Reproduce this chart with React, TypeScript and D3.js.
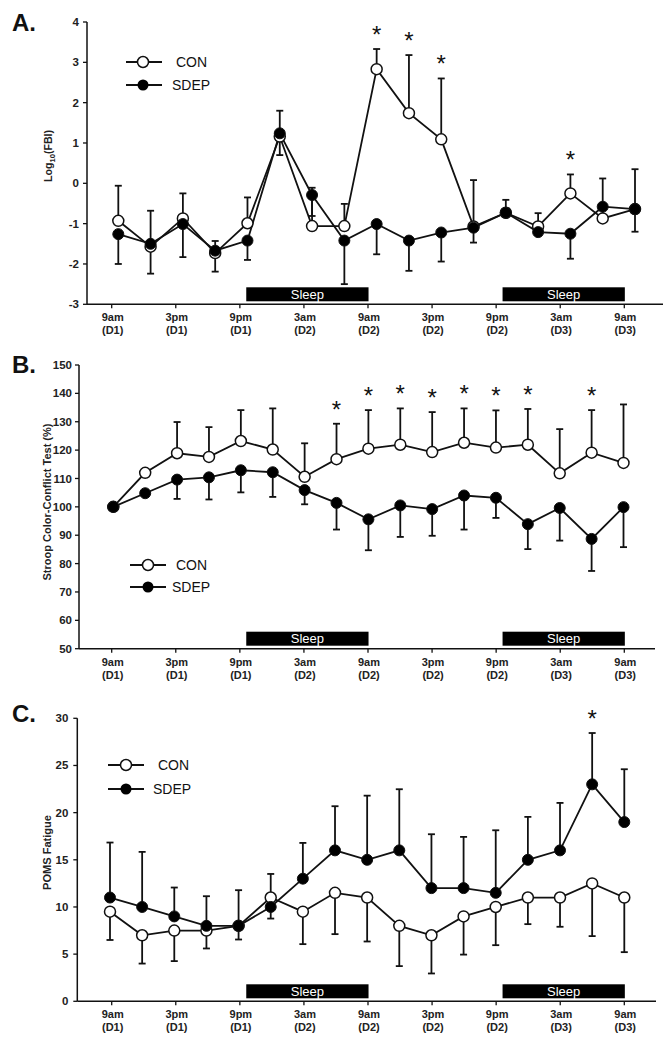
import React from "react";
import * as d3 from "d3";

const FONT = "'Liberation Sans', Arial, Helvetica, sans-serif";

// sampling times (hours from 9am D1)
const timePoints = [0, 3, 6, 9, 12, 15, 18, 21, 24, 27, 30, 33, 36, 39, 42, 45, 48];
const tickHours = [0, 6, 12, 18, 24, 30, 36, 42, 48];
const tickLabels = ["9am", "3pm", "9pm", "3am", "9am", "3pm", "9pm", "3am", "9am"];
const tickDays = ["(D1)", "(D1)", "(D1)", "(D2)", "(D2)", "(D2)", "(D2)", "(D3)", "(D3)"];
const sleepStart = [12.6, 36.6];
const sleepEnd = [24.05, 48.05];

// Panel A: Log10(FBI)
const conA = [-0.93, -1.57, -0.87, -1.73, -0.99, 1.16, -1.06, -1.06, 2.83, 1.74, 1.09, -1.07, -0.73, -1.07, -0.25, -0.87, -0.64];
const conErrA = [0.87, 0.89, 0.62, 0.3, 0.64, 0.64, 0.95, 0.55, 0.5, 1.44, 1.51, 1.15, 0.32, 0.33, 0.47, 0.99, 0.99];
const sdepA = [-1.26, -1.5, -1.01, -1.67, -1.42, 1.24, -0.29, -1.42, -1.01, -1.42, -1.22, -1.1, -0.73, -1.21, -1.25, -0.58, -0.64];
const sdepErrA = [-0.74, -0.74, -0.82, -0.52, -0.48, -0.54, -0.52, -1.08, -0.75, -0.75, -0.72, -0.37, 0, 0, -0.62, 0, -0.56];
const starsA = [8, 9, 10, 14];
const yTicksA = [-3, -2, -1, 0, 1, 2, 3, 4];

// Panel B: Stroop Color-Conflict Test (%)
const conB = [100, 112.0, 118.9, 117.6, 123.2, 120.2, 110.6, 116.8, 120.5, 121.9, 119.3, 122.6, 120.9, 121.9, 111.8, 119.1, 115.5];
const conErrB = [0, 0, 11.0, 10.5, 10.9, 14.5, 11.8, 12.5, 13.6, 12.8, 14.1, 12.1, 13.1, 12.6, 15.6, 15.0, 20.6];
const sdepB = [100, 104.8, 109.6, 110.4, 112.9, 112.2, 105.9, 101.4, 95.6, 100.5, 99.2, 104.0, 103.2, 93.9, 99.6, 88.7, 99.9];
const sdepErrB = [0, 0, -6.8, -7.8, -7.8, -8.7, -5.0, -9.4, -10.9, -11.1, -9.4, -12.0, -7.1, -8.8, -11.5, -11.3, -14.1];
const starsB = [7, 8, 9, 10, 11, 12, 13, 15];
const yTicksB = [50, 60, 70, 80, 90, 100, 110, 120, 130, 140, 150];

// Panel C: POMS Fatigue
const conC = [9.5, 7.0, 7.5, 7.5, 8.0, 11.0, 9.5, 11.5, 11.0, 8.0, 7.0, 9.0, 10.0, 11.0, 11.0, 12.5, 11.0];
const conErrC = [-3.0, -3.0, -3.24, -1.9, -1.45, 2.5, -3.44, -4.38, -4.66, -4.27, -4.05, -4.05, -4.05, -2.82, -3.1, -5.59, -5.79];
const sdepC = [11, 10, 9, 8, 8, 10, 13, 16, 15, 16, 12, 12, 11.5, 15, 16, 23, 19];
const sdepErrC = [5.83, 5.84, 3.06, 3.14, 3.78, -1.23, 3.79, 4.68, 6.8, 6.48, 5.71, 5.43, 6.63, 4.55, 5.03, 5.44, 5.6];
const starsC = [15];
const yTicksC = [0, 5, 10, 15, 20, 25, 30];

type Cfg = {
  letter: string;
  letterY: number;
  axisX: number;
  axisEnd: number;
  yTop: number;
  yBottom: number;
  domain: [number, number];
  yTicks: number[];
  pointRange: [number, number];
  labelGap: number;
  yLabelX: number;
  yLabelY: number;
  yLabelLen: number;
  legend: { x1: number; x2: number; xm: number; yCon: number; ySdep: number; xCon: number; xSdep: number };
};

function Panel(props: {
  cfg: Cfg;
  con: number[];
  conErr: number[];
  sdep: number[];
  sdepErr: number[];
  stars: number[];
  yLabel: React.ReactNode;
}) {
  const { cfg, con, conErr, sdep, sdepErr, stars, yLabel } = props;
  const y = d3.scaleLinear().domain(cfg.domain).range([cfg.yBottom, cfg.yTop]);
  const xt = d3.scaleLinear().domain([0, 48]).range([111.7, 624.3]);
  const xp = d3.scaleLinear().domain([0, 48]).range(cfg.pointRange);
  const line = d3
    .line<number>()
    .x((_, i) => xp(timePoints[i]))
    .y((d) => y(d));
  const base = cfg.yBottom;
  const sw = 1.8;
  const r = 5.5;

  const errBars = (vals: number[], errs: number[], key: string) =>
    vals.map((v, i) => {
      const e = errs[i];
      if (!e) return null;
      const cx = xp(timePoints[i]);
      const ye = y(v + e);
      return (
        <g key={key + i}>
          <line x1={cx} x2={cx} y1={y(v)} y2={ye} stroke="#111" strokeWidth={sw} />
          <line x1={cx - 3.5} x2={cx + 3.5} y1={ye} y2={ye} stroke="#111" strokeWidth={sw} />
        </g>
      );
    });

  return (
    <g>
      <text x={12} y={cfg.letterY} fontFamily={FONT} fontWeight="bold" fontSize={24} fill="#111">
        {cfg.letter}
      </text>
      {/* sleep bars */}
      {sleepStart.map((s, i) => (
        <g key={"sl" + i}>
          <rect x={xt(s)} y={base - 17} width={xt(sleepEnd[i]) - xt(s)} height={14} fill="#000" />
          <text
            x={(xt(s) + xt(sleepEnd[i])) / 2}
            y={base - 5.5}
            textAnchor="middle"
            fontFamily={FONT}
            fontSize={13}
            fill="#fff"
          >
            Sleep
          </text>
        </g>
      ))}
      {/* axes */}
      <line x1={cfg.axisX} x2={cfg.axisX} y1={cfg.yTop} y2={base} stroke="#111" strokeWidth={1.5} />
      <line x1={cfg.axisX} x2={cfg.axisEnd} y1={base} y2={base} stroke="#111" strokeWidth={1.5} />
      {cfg.yTicks.map((t) => (
        <g key={"yt" + t}>
          <line x1={cfg.axisX - 4} x2={cfg.axisX} y1={y(t)} y2={y(t)} stroke="#111" strokeWidth={1.3} />
          <text
            x={cfg.axisX - cfg.labelGap}
            y={y(t)}
            dy="0.35em"
            textAnchor="end"
            fontFamily={FONT}
            fontWeight="bold"
            fontSize={11.5}
            fill="#222"
          >
            {t}
          </text>
        </g>
      ))}
      {tickHours.map((h, i) => (
        <g key={"xt" + i}>
          <line x1={xt(h)} x2={xt(h)} y1={base} y2={base + 4} stroke="#111" strokeWidth={1.3} />
          <text x={xt(h) + 1} y={base + 17} textAnchor="middle" fontFamily={FONT} fontWeight="bold" fontSize={11} fill="#222">
            {tickLabels[i]}
          </text>
          <text x={xt(h) + 1} y={base + 30} textAnchor="middle" fontFamily={FONT} fontWeight="bold" fontSize={11} fill="#222">
            {tickDays[i]}
          </text>
        </g>
      ))}
      {/* y label */}
      <text
        transform={`translate(${cfg.yLabelX},${cfg.yLabelY}) rotate(-90)`}
        textAnchor="middle"
        dy="0.35em"
        fontFamily={FONT}
        fontWeight="bold"
        fontSize={11}
        fill="#222"
        textLength={cfg.yLabelLen}
        lengthAdjust="spacingAndGlyphs"
      >
        {yLabel}
      </text>
      {/* error bars */}
      {errBars(con, conErr, "ce")}
      {errBars(sdep, sdepErr, "se")}
      {/* lines */}
      <path d={line(con) || ""} fill="none" stroke="#111" strokeWidth={sw} />
      <path d={line(sdep) || ""} fill="none" stroke="#111" strokeWidth={sw} />
      {con.map((v, i) => (
        <circle key={"cm" + i} cx={xp(timePoints[i])} cy={y(v)} r={r} fill="#fff" stroke="#111" strokeWidth={1.5} />
      ))}
      {sdep.map((v, i) => (
        <circle key={"sm" + i} cx={xp(timePoints[i])} cy={y(v)} r={r} fill="#000" stroke="#111" strokeWidth={1} />
      ))}
      {/* stars */}
      {stars.map((i) => {
        const top = Math.max(
          con[i],
          sdep[i],
          con[i] + (conErr[i] > 0 ? conErr[i] : 0),
          sdep[i] + (sdepErr[i] > 0 ? sdepErr[i] : 0)
        );
        return (
          <text
            key={"st" + i}
            x={xp(timePoints[i])}
            y={y(top) - 6}
            textAnchor="middle"
            fontFamily={FONT}
            fontSize={24}
            fill="#111"
          >
            *
          </text>
        );
      })}
      {/* legend */}
      <line x1={cfg.legend.x1} x2={cfg.legend.x2} y1={cfg.legend.yCon} y2={cfg.legend.yCon} stroke="#111" strokeWidth={sw} />
      <circle cx={cfg.legend.xm} cy={cfg.legend.yCon} r={r} fill="#fff" stroke="#111" strokeWidth={1.5} />
      <text x={cfg.legend.xCon} y={cfg.legend.yCon} dy="0.36em" fontFamily={FONT} fontSize={14} fill="#111">
        CON
      </text>
      <line x1={cfg.legend.x1} x2={cfg.legend.x2} y1={cfg.legend.ySdep} y2={cfg.legend.ySdep} stroke="#111" strokeWidth={sw} />
      <circle cx={cfg.legend.xm} cy={cfg.legend.ySdep} r={r} fill="#000" />
      <text x={cfg.legend.xSdep} y={cfg.legend.ySdep} dy="0.36em" fontFamily={FONT} fontSize={14} fill="#111">
        SDEP
      </text>
    </g>
  );
}

const cfgA: Cfg = {
  letter: "A.",
  letterY: 31,
  axisX: 87,
  axisEnd: 663,
  yTop: 22,
  yBottom: 304.3,
  domain: [-3, 4],
  yTicks: yTicksA,
  pointRange: [118.3, 635],
  labelGap: 8,
  yLabelX: 48,
  yLabelY: 156,
  yLabelLen: 52,
  legend: { x1: 126, x2: 162, xm: 143, yCon: 62, ySdep: 85, xCon: 176, xSdep: 172 },
};
const cfgB: Cfg = {
  letter: "B.",
  letterY: 373,
  axisX: 79,
  axisEnd: 655,
  yTop: 365,
  yBottom: 648.7,
  domain: [50, 150],
  yTicks: yTicksB,
  pointRange: [113.3, 623.5],
  labelGap: 7,
  yLabelX: 47,
  yLabelY: 502,
  yLabelLen: 157,
  legend: { x1: 130, x2: 166, xm: 148, yCon: 565, ySdep: 587, xCon: 176, xSdep: 172 },
};
const cfgC: Cfg = {
  letter: "C.",
  letterY: 722,
  axisX: 77.3,
  axisEnd: 656,
  yTop: 718.3,
  yBottom: 1001.3,
  domain: [0, 30],
  yTicks: yTicksC,
  pointRange: [110, 624.3],
  labelGap: 9,
  yLabelX: 47,
  yLabelY: 852.5,
  yLabelLen: 75,
  legend: { x1: 108, x2: 144, xm: 126, yCon: 765, ySdep: 789, xCon: 158, xSdep: 153 },
};

export default function App() {
  return (
    <svg
      width={669}
      height={1053}
      style={{ position: "absolute", left: 0, top: 0, background: "#fff" }}
      xmlns="http://www.w3.org/2000/svg"
    >
      <rect x={0} y={0} width={669} height={1053} fill="#fff" />
      <Panel
        cfg={cfgA}
        con={conA}
        conErr={conErrA}
        sdep={sdepA}
        sdepErr={sdepErrA}
        stars={starsA}
        yLabel={
          <>
            Log
            <tspan fontSize={8} dy="3">10</tspan>
            <tspan dy="-3">(FBI)</tspan>
          </>
        }
      />
      <Panel
        cfg={cfgB}
        con={conB}
        conErr={conErrB}
        sdep={sdepB}
        sdepErr={sdepErrB}
        stars={starsB}
        yLabel="Stroop Color-Conflict Test (%)"
      />
      <Panel
        cfg={cfgC}
        con={conC}
        conErr={conErrC}
        sdep={sdepC}
        sdepErr={sdepErrC}
        stars={starsC}
        yLabel="POMS Fatigue"
      />
    </svg>
  );
}
